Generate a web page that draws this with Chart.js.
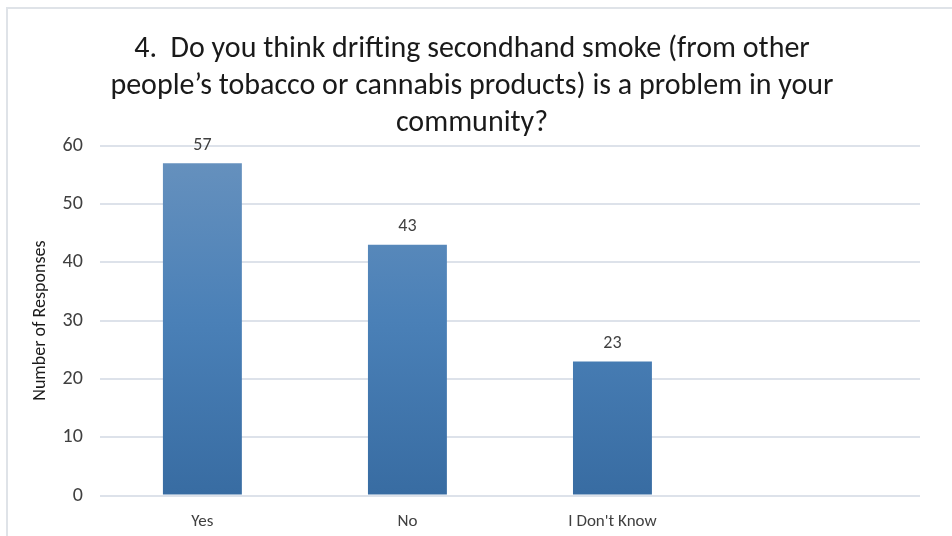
<!DOCTYPE html>
<html>
<head>
<meta charset="utf-8">
<script src="https://cdn.jsdelivr.net/npm/chart.js@4/dist/chart.umd.min.js"></script>
<style>
  html, body { margin:0; padding:0; background:#fff; }
  #wrap { position:relative; width:952px; height:536px; overflow:hidden; }
  #frame { position:absolute; left:6px; top:7px; width:960px; height:540px; border-left:2px solid #dfe3e8; border-top:2px solid #dfe3e8; }
  canvas { position:absolute; left:0; top:0; }
</style>
</head>
<body>
<div id="wrap">
  <div id="frame"></div>
  <canvas id="chart" width="952" height="536"></canvas>
</div>
<script>
const titleLines = [
  '4.  Do you think drifting secondhand smoke (from other',
  'people\u2019s tobacco or cannabis products) is a problem in your',
  'community?'
];
const categories = ['Yes', 'No', "I Don't Know", ''];
const responses  = [57, 43, 23, null];
const yTicks     = [0, 10, 20, 30, 40, 50, 60];

const FONT = 'Carlito, Lato, sans-serif';

// value labels above each bar
const barLabels = {
  id: 'barLabels',
  afterDatasetsDraw(chart) {
    const ctx = chart.ctx;
    const meta = chart.getDatasetMeta(0);
    ctx.save();
    ctx.font = '18px ' + FONT;
    ctx.fillStyle = '#404040';
    ctx.textAlign = 'center';
    ctx.textBaseline = 'bottom';
    meta.data.forEach((bar, i) => {
      const v = responses[i];
      if (v == null) return;
      ctx.fillText(String(v), bar.x, bar.y - 9);
    });
    ctx.restore();
  }
};

function barFill(context) {
  const area = context.chart.chartArea;
  if (!area) return '#4a7fb5';
  const g = context.chart.ctx.createLinearGradient(0, area.top, 0, area.bottom);
  g.addColorStop(0, '#6892be');
  g.addColorStop(0.5, '#4a80b7');
  g.addColorStop(1, '#386ca2');
  return g;
}

new Chart(document.getElementById('chart'), {
  type: 'bar',
  data: {
    labels: categories,
    datasets: [{
      data: responses,
      backgroundColor: barFill,
      borderWidth: 0,
      categoryPercentage: 0.385,
      barPercentage: 1
    }]
  },
  options: {
    responsive: false,
    animation: false,
    layout: { padding: { left: 24, right: 32, top: 0, bottom: -12 } },
    plugins: {
      legend: { display: false },
      tooltip: { enabled: false },
      title: {
        display: true,
        text: titleLines,
        color: '#1a1a1a',
        font: { family: FONT, size: 30, weight: 'normal', lineHeight: 1.23 },
        padding: { top: 31, bottom: 4 }
      }
    },
    scales: {
      x: {
        grid: { display: false, drawTicks: false },
        border: { display: false },
        ticks: { color: '#404040', font: { family: FONT, size: 17 }, padding: 16 }
      },
      y: {
        min: 0, max: 60,
        afterBuildTicks(axis) { axis.ticks = yTicks.map(v => ({ value: v })); },
        grid: { color: '#dde2ea', lineWidth: 2, drawTicks: false },
        border: { display: false },
        ticks: { color: '#404040', font: { family: FONT, size: 20 }, padding: 17 },
        title: {
          display: true,
          text: 'Number of Responses',
          color: '#1a1a1a',
          font: { family: FONT, size: 18 },
          padding: { top: 6, bottom: -6 }
        }
      }
    }
  },
  plugins: [barLabels]
});
</script>
</body>
</html>
